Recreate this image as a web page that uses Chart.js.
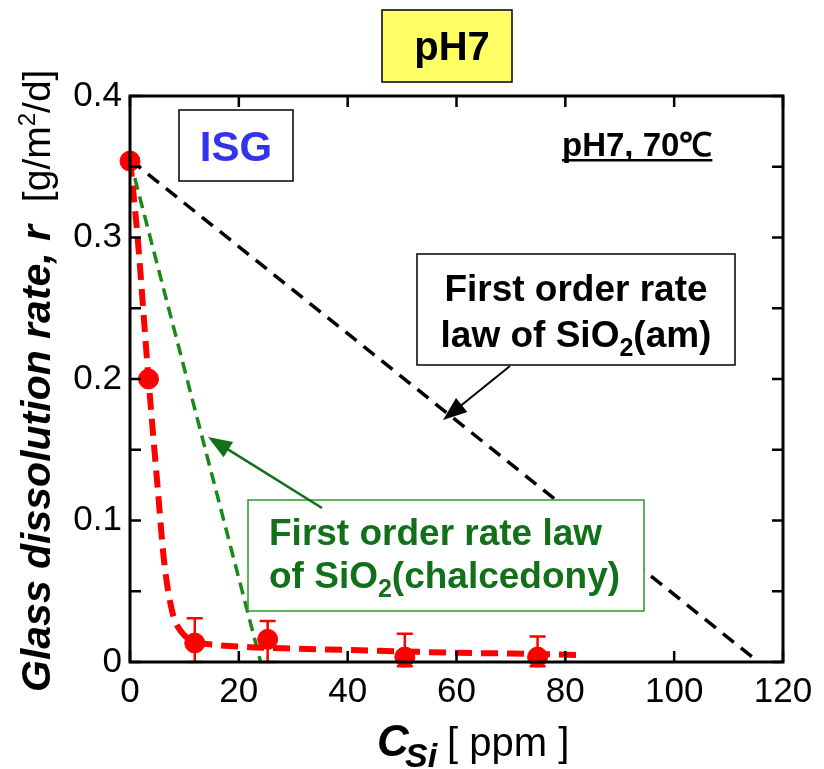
<!DOCTYPE html>
<html>
<head>
<meta charset="utf-8">
<script src="https://cdn.jsdelivr.net/npm/chart.js@4.4.1/dist/chart.umd.min.js"></script>
<style>
  html, body { margin: 0; padding: 0; background: #fff; }
  #wrap { width: 824px; height: 769px; }
</style>
</head>
<body>
<div id="wrap"><canvas id="myChart" width="824" height="769"></canvas></div>
<script>
// measured points (ISG, pH7, 70C)
const obsX = [0, 3.4, 11.9, 25.3, 50.5, 74.9];
const obsY = [0.354, 0.2, 0.0134, 0.016, 0.0035, 0.0035];
const errHi = [null, null, 0.031, 0.029, 0.020, 0.018];
const errLo = [null, null, 0, 0, -0.003, -0.003];

// red dashed fit curve
const fitX = [0, 1.4, 3.4, 5, 6.3, 7.8, 9.5, 12, 16, 22, 30, 40, 50, 60, 70, 82];
const fitY = [0.355, 0.3, 0.2, 0.127, 0.07, 0.035, 0.021, 0.0145, 0.012, 0.0105, 0.0095, 0.0085, 0.0075, 0.0065, 0.006, 0.005];

// first order rate laws
const chalX = [0, 24];
const chalY = [0.355, 0];
const amX = [0, 115.5];
const amY = [0.355, 0];

const FONT = "'Liberation Sans', Arial, sans-serif";
const GREEN = '#13701a';

function pts(xs, ys) {
  return xs.map((x, i) => ({ x: x, y: ys[i] }));
}

function runs(ctx, list, x, y) {
  let cx = x;
  list.forEach(r => {
    ctx.font = r.font;
    ctx.fillText(r.text, cx, y + (r.dy || 0));
    cx += ctx.measureText(r.text).width;
  });
  return cx;
}

function runsWidth(ctx, list) {
  let w = 0;
  list.forEach(r => { ctx.font = r.font; w += ctx.measureText(r.text).width; });
  return w;
}

function arrow(ctx, x1, y1, x2, y2, color, lw) {
  const a = Math.atan2(y2 - y1, x2 - x1);
  const L = 24, W = 9;
  ctx.strokeStyle = color;
  ctx.fillStyle = color;
  ctx.lineWidth = lw;
  ctx.setLineDash([]);
  ctx.beginPath();
  ctx.moveTo(x1, y1);
  ctx.lineTo(x2 - L * 0.8 * Math.cos(a), y2 - L * 0.8 * Math.sin(a));
  ctx.stroke();
  ctx.beginPath();
  ctx.moveTo(x2, y2);
  ctx.lineTo(x2 - L * Math.cos(a) + W * Math.sin(a), y2 - L * Math.sin(a) - W * Math.cos(a));
  ctx.lineTo(x2 - L * Math.cos(a) - W * Math.sin(a), y2 - L * Math.sin(a) + W * Math.cos(a));
  ctx.closePath();
  ctx.fill();
}

const extras = {
  id: 'extras',
  afterDatasetsDraw(chart) {
    const ctx = chart.ctx;
    const xs = chart.scales.x, ys = chart.scales.y;
    ctx.save();
    ctx.strokeStyle = 'red';
    ctx.lineWidth = 2.5;
    obsX.forEach((x, i) => {
      if (errHi[i] === null) return;
      const px = xs.getPixelForValue(x);
      const top = ys.getPixelForValue(errHi[i]);
      const bot = ys.getPixelForValue(errLo[i]);
      ctx.beginPath();
      ctx.moveTo(px, top); ctx.lineTo(px, bot);
      ctx.moveTo(px - 8, top); ctx.lineTo(px + 8, top);
      ctx.moveTo(px - 8, bot); ctx.lineTo(px + 8, bot);
      ctx.stroke();
    });
    ctx.restore();
  },
  afterDraw(chart) {
    const ctx = chart.ctx;
    const a = chart.chartArea;
    const xs = chart.scales.x, ys = chart.scales.y;
    ctx.save();
    // frame + inward ticks
    ctx.strokeStyle = '#000';
    ctx.lineWidth = 3;
    ctx.setLineDash([]);
    ctx.strokeRect(a.left, a.top, a.right - a.left, a.bottom - a.top);
    ctx.lineWidth = 2.5;
    ctx.beginPath();
    xs.ticks.forEach(t => {
      const px = xs.getPixelForValue(t.value);
      ctx.moveTo(px, a.bottom); ctx.lineTo(px, a.bottom - 11);
      ctx.moveTo(px, a.top); ctx.lineTo(px, a.top + 11);
    });
    ys.ticks.forEach(t => {
      const py = ys.getPixelForValue(t.value);
      ctx.moveTo(a.left, py); ctx.lineTo(a.left + 11, py);
      ctx.moveTo(a.right, py); ctx.lineTo(a.right - 11, py);
    });
    ctx.stroke();

    ctx.textBaseline = 'alphabetic';
    ctx.textAlign = 'left';

    // title box
    ctx.fillStyle = '#ffff66';
    ctx.fillRect(382, 10, 130, 72);
    ctx.lineWidth = 1.5;
    ctx.strokeRect(382, 10, 130, 72);
    ctx.fillStyle = '#000';
    ctx.font = 'bold 40px ' + FONT;
    ctx.textAlign = 'center';
    ctx.fillText('pH7', 452, 60);

    // ISG box
    ctx.fillStyle = '#fff';
    ctx.fillRect(179, 110, 114, 71);
    ctx.strokeStyle = '#000';
    ctx.lineWidth = 1.5;
    ctx.strokeRect(179, 110, 114, 71);
    ctx.fillStyle = '#3333ee';
    ctx.font = 'bold 42px ' + FONT;
    ctx.fillText('ISG', 236, 161);

    // condition label
    ctx.fillStyle = '#000';
    ctx.font = 'bold 33px ' + FONT;
    ctx.textAlign = 'left';
    const cond = 'pH7, 70\u2103';
    const cw = ctx.measureText(cond).width;
    ctx.fillText(cond, 562, 156);
    ctx.fillRect(562, 159, cw, 2.5);

    // SiO2(am) box
    ctx.fillStyle = '#fff';
    ctx.fillRect(417, 254, 318, 111);
    ctx.strokeStyle = '#000';
    ctx.lineWidth = 1.5;
    ctx.strokeRect(417, 254, 318, 111);
    ctx.fillStyle = '#000';
    ctx.textAlign = 'center';
    ctx.font = 'bold 37px ' + FONT;
    ctx.fillText('First order rate', 576, 301);
    ctx.textAlign = 'left';
    let l2 = [
      { text: 'law of SiO', font: 'bold 37px ' + FONT },
      { text: '2', font: 'bold 25px ' + FONT, dy: 9 },
      { text: '(am)', font: 'bold 37px ' + FONT }
    ];
    runs(ctx, l2, 576 - runsWidth(ctx, l2) / 2, 347);
    arrow(ctx, 510, 366, 443, 420, '#000', 2);

    // chalcedony box
    ctx.fillStyle = '#fff';
    ctx.fillRect(248, 500, 396, 111);
    ctx.strokeStyle = '#2a9a2a';
    ctx.lineWidth = 1.5;
    ctx.strokeRect(248, 500, 396, 111);
    ctx.fillStyle = GREEN;
    ctx.font = 'bold 37px ' + FONT;
    ctx.fillText('First order rate law', 269, 545);
    runs(ctx, [
      { text: 'of SiO', font: 'bold 37px ' + FONT },
      { text: '2', font: 'bold 25px ' + FONT, dy: 9 },
      { text: '(chalcedony)', font: 'bold 37px ' + FONT }
    ], 269, 588);
    arrow(ctx, 322, 508, 208, 437, GREEN, 2.5);

    // x axis title
    ctx.fillStyle = '#000';
    runs(ctx, [{ text: 'C', font: 'italic bold 44px ' + FONT }], 377, 756);
    runs(ctx, [{ text: 'Si', font: 'italic bold 34px ' + FONT }], 405, 767);
    runs(ctx, [{ text: '[ ppm ]', font: '40px ' + FONT }], 447, 756);

    // y axis title
    ctx.save();
    ctx.translate(50, 692);
    ctx.rotate(-Math.PI / 2);
    runs(ctx, [
      { text: 'Glass dissolution rate, r  ', font: 'italic bold 41px ' + FONT },
      { text: '[g/m', font: '39px ' + FONT },
      { text: '2', font: '24px ' + FONT, dy: -15 },
      { text: '/d]', font: '39px ' + FONT }
    ], 0, 0);
    ctx.restore();

    ctx.restore();
  }
};

const ctx = document.getElementById('myChart').getContext('2d');

const myChart = new Chart(ctx, {
  type: 'scatter',
  data: {
    datasets: [{
      label: 'ISG',
      data: pts(obsX, obsY),
      backgroundColor: 'red',
      borderColor: 'red',
      pointRadius: 10,
      pointHoverRadius: 10,
      clip: false
    }, {
      label: 'fit',
      data: pts(fitX, fitY),
      showLine: true,
      borderColor: 'red',
      borderWidth: 6,
      borderDash: [17, 9],
      cubicInterpolationMode: 'monotone',
      pointRadius: 0
    }, {
      label: 'chalcedony',
      data: pts(chalX, chalY),
      showLine: true,
      borderColor: '#178a17',
      borderWidth: 3.5,
      borderDash: [12, 7],
      pointRadius: 0
    }, {
      label: 'am',
      data: pts(amX, amY),
      showLine: true,
      borderColor: '#000',
      borderWidth: 3.5,
      borderDash: [14, 9],
      pointRadius: 0
    }]
  },
  options: {
    responsive: false,
    animation: false,
    layout: { padding: { left: 0, right: 41, top: 96, bottom: 0 } },
    plugins: {
      legend: { display: false },
      tooltip: { enabled: false }
    },
    scales: {
      x: {
        type: 'linear',
        min: 0,
        max: 120,
        grid: { display: false, drawTicks: false },
        border: { display: false },
        ticks: {
          stepSize: 20,
          padding: 9,
          color: '#000',
          font: { family: FONT, size: 35 }
        },
        afterFit(s) { s.height = 107; }
      },
      y: {
        type: 'linear',
        min: 0,
        max: 0.4,
        grid: { display: false, drawTicks: false },
        border: { display: false },
        ticks: {
          stepSize: 0.05,
          padding: 8,
          color: '#000',
          font: { family: FONT, size: 35 },
          callback: v => {
            const k = Math.round(v * 20);
            if (k % 2) return '';
            return k === 0 ? '0' : (k / 20).toFixed(1);
          }
        },
        afterFit(s) { s.width = 130; }
      }
    }
  },
  plugins: [extras]
});
</script>
</body>
</html>
